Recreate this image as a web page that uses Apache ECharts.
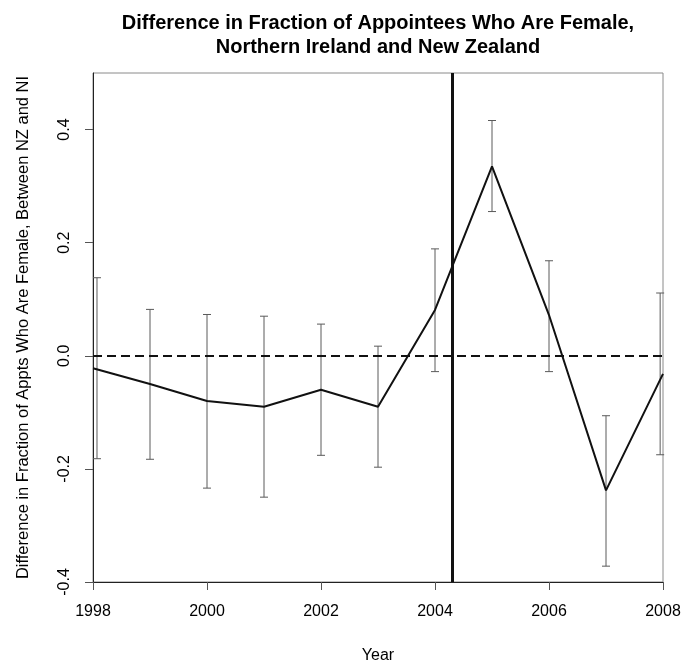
<!DOCTYPE html>
<html>
<head>
<meta charset="utf-8">
<script src="https://cdn.jsdelivr.net/npm/echarts@6/dist/echarts.min.js"></script>
<style>
  html, body { margin: 0; padding: 0; background: #fff; }
  #chart { width: 683px; height: 662px; }
</style>
</head>
<body>
<div id="chart"></div>
<script>
// Yearly difference (NZ minus NI) in the share of female appointees
const years = [1998, 1999, 2000, 2001, 2002, 2003, 2004, 2005, 2006, 2007, 2008];
const difference = [-0.022, -0.050, -0.080, -0.090, -0.060, -0.090, 0.081, 0.335, 0.072, -0.238, -0.032];
// Confidence interval bounds; the end bars sit just inside the plot edges
const barYears = [1998.07, 1999, 2000, 2001, 2002, 2003, 2004, 2005, 2006, 2007, 2007.95];
const lower = [-0.182, -0.183, -0.234, -0.250, -0.176, -0.197, -0.028, 0.255, -0.028, -0.372, -0.175];
const upper = [0.138, 0.082, 0.073, 0.070, 0.056, 0.017, 0.189, 0.416, 0.168, -0.106, 0.111];
// Policy change marker
const breakYear = 2004.3;
const yTicks = [-0.4, -0.2, 0.0, 0.2, 0.4];
const xTicks = [1998, 2000, 2002, 2004, 2006, 2008];

const font = 'Liberation Sans, Arial, Helvetica, sans-serif';
const chart = echarts.init(document.getElementById('chart'), null, { renderer: 'canvas' });

chart.setOption({
  animation: false,
  backgroundColor: '#ffffff',
  title: {
    text: 'Difference in Fraction of Appointees Who Are Female,\nNorthern Ireland and New Zealand',
    left: 373,
    top: 6,
    textAlign: 'center',
    textStyle: { fontFamily: font, fontSize: 20, fontWeight: 'bold', color: '#000', lineHeight: 24 }
  },
  grid: {
    left: 93, right: 20, top: 73, bottom: 80,
    containLabel: false, outerBoundsMode: 'none',
    show: true, borderColor: '#8a8a8a', borderWidth: 1
  },
  xAxis: {
    type: 'value',
    min: 1998, max: 2008, interval: 2,
    name: 'Year',
    nameLocation: 'middle',
    nameGap: 66,
    nameTextStyle: { fontFamily: font, fontSize: 16, color: '#000' },
    axisLine: { show: true, onZero: false, lineStyle: { color: '#222', width: 1 } },
    axisTick: { show: true, length: 8, lineStyle: { color: '#555' }, customValues: xTicks },
    axisLabel: { fontFamily: font, fontSize: 16, color: '#000', margin: 22, customValues: xTicks,
                 formatter: v => String(v) },
    splitLine: { show: false }
  },
  yAxis: {
    type: 'value',
    min: -0.4, max: 0.5,
    name: 'Difference in Fraction of Appts Who Are Female, Between NZ and NI',
    nameLocation: 'middle',
    nameGap: 61,
    nameTextStyle: { fontFamily: font, fontSize: 16.5, color: '#000' },
    axisLine: { show: true, onZero: false, lineStyle: { color: '#222', width: 1 } },
    axisTick: { show: true, length: 8, lineStyle: { color: '#555' }, customValues: yTicks },
    axisLabel: { fontFamily: font, fontSize: 16, color: '#000', margin: 20, rotate: 90,
                 customValues: yTicks, formatter: v => v.toFixed(1) },
    splitLine: { show: false }
  },
  series: [
    {
      // Confidence intervals drawn as capped vertical bars
      type: 'custom',
      data: barYears.map((x, i) => [x, lower[i], upper[i]]),
      encode: { x: 0, y: [1, 2] },
      z: 2,
      renderItem: function (params, api) {
        const lo = api.coord([api.value(0), api.value(1)]);
        const hi = api.coord([api.value(0), api.value(2)]);
        const cap = 4;
        const style = { stroke: '#5a5a5a', lineWidth: 1 };
        return {
          type: 'group',
          children: [
            { type: 'line', shape: { x1: lo[0], y1: lo[1], x2: hi[0], y2: hi[1] }, style },
            { type: 'line', shape: { x1: hi[0] - cap, y1: hi[1], x2: hi[0] + cap, y2: hi[1] }, style },
            { type: 'line', shape: { x1: lo[0] - cap, y1: lo[1], x2: lo[0] + cap, y2: lo[1] }, style }
          ]
        };
      }
    },
    {
      type: 'line',
      data: years.map((y, i) => [y, difference[i]]),
      symbol: 'none',
      lineStyle: { color: '#111', width: 2 },
      z: 3,
      markLine: {
        silent: true,
        symbol: 'none',
        label: { show: false },
        data: [
          { yAxis: 0, lineStyle: { type: [9, 5], color: '#111', width: 2 } },
          { xAxis: breakYear, lineStyle: { type: 'solid', color: '#111', width: 3 } }
        ]
      }
    }
  ]
});
</script>
</body>
</html>
